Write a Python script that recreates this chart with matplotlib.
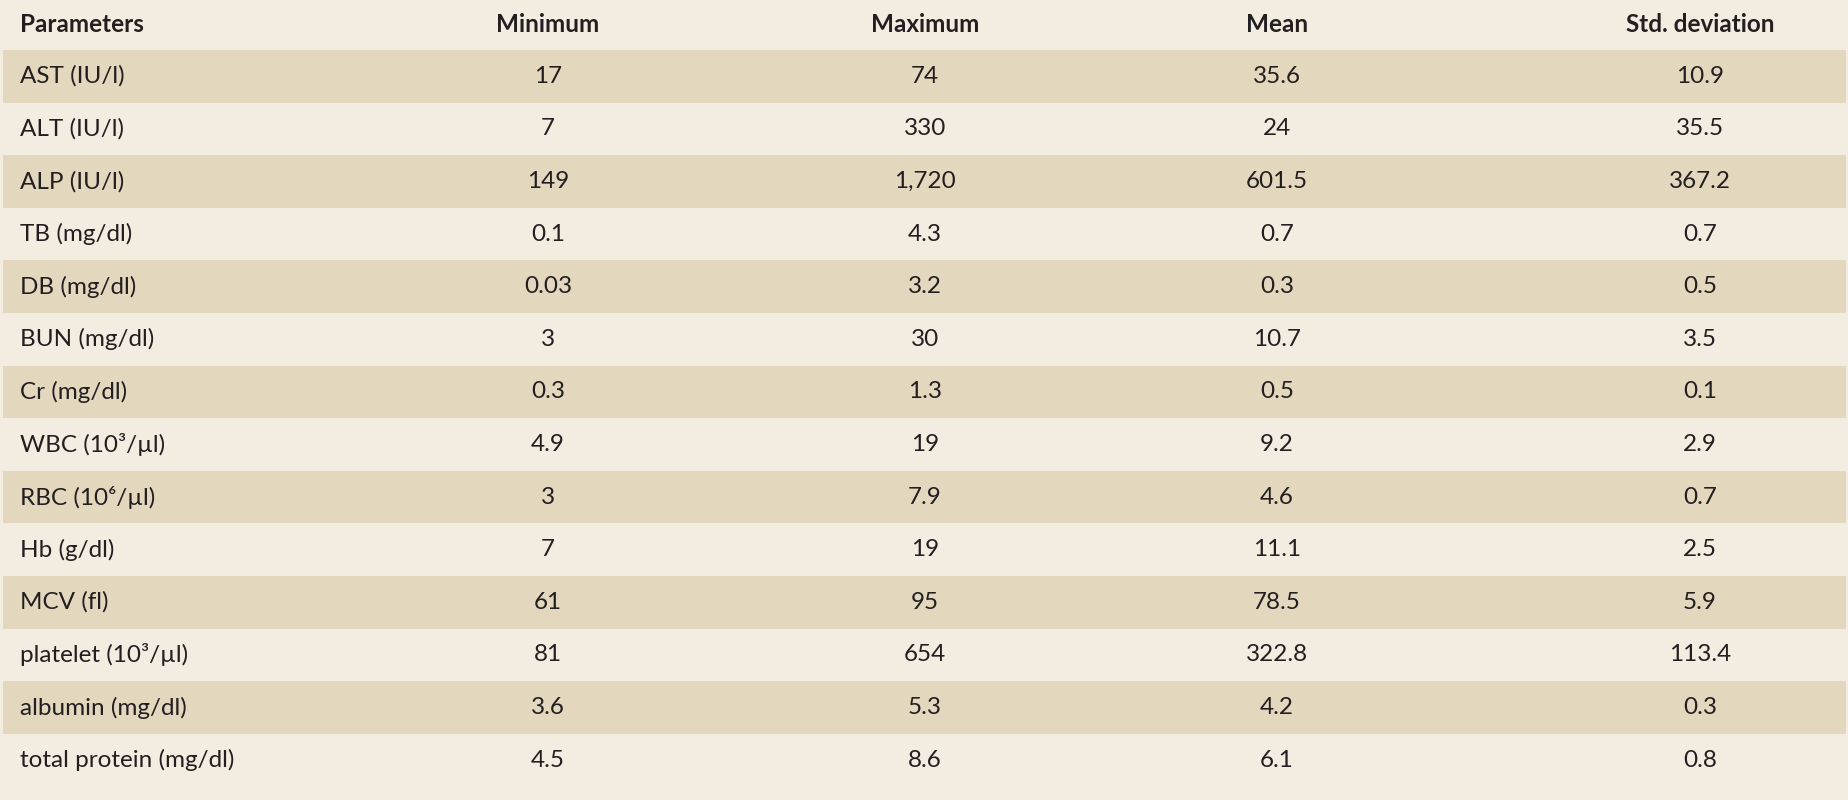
import matplotlib
matplotlib.use("Agg")
import matplotlib.pyplot as plt
from matplotlib.patches import Rectangle

headers = ["Parameters", "Minimum", "Maximum", "Mean", "Std. deviation"]
params = ["AST (IU/l)", "ALT (IU/l)", "ALP (IU/l)", "TB (mg/dl)", "DB (mg/dl)", "BUN (mg/dl)",
          "Cr (mg/dl)", "WBC (10³/µl)", "RBC (10⁶/µl)", "Hb (g/dl)", "MCV (fl)",
          "platelet (10³/µl)", "albumin (mg/dl)", "total protein (mg/dl)"]
minimum = ["17", "7", "149", "0.1", "0.03", "3", "0.3", "4.9", "3", "7", "61", "81", "3.6", "4.5"]
maximum = ["74", "330", "1,720", "4.3", "3.2", "30", "1.3", "19", "7.9", "19", "95", "654", "5.3", "8.6"]
mean = ["35.6", "24", "601.5", "0.7", "0.3", "10.7", "0.5", "9.2", "4.6", "11.1", "78.5", "322.8", "4.2", "6.1"]
std = ["10.9", "35.5", "367.2", "0.7", "0.5", "3.5", "0.1", "2.9", "0.7", "2.5", "5.9", "113.4", "0.3", "0.8"]

W, H = 1849, 800
fig = plt.figure(figsize=(W/100, H/100), dpi=100)
fig.patch.set_facecolor("#F3ECE1")
ax = fig.add_axes([0, 0, 1, 1])
ax.set_xlim(0, W); ax.set_ylim(H, 0); ax.axis("off")

fam = ["Lato", "DejaVu Sans"]
col_x = [20, 548, 925, 1277, 1700]
header_h = 50
pitch = 52.6
fs = 17.5
color = "#231f20"

ax.text(col_x[0], header_h/2, headers[0], ha="left", va="center", fontsize=fs, fontweight="bold", family=fam, color=color)
for j in range(1, 5):
    ax.text(col_x[j], header_h/2, headers[j], ha="center", va="center", fontsize=fs, fontweight="bold", family=fam, color=color)

cols = [minimum, maximum, mean, std]
for i, p in enumerate(params):
    y0 = header_h + i*pitch
    if i % 2 == 0:
        ax.add_patch(Rectangle((3, y0), W-6, pitch, color="#E3D8BE", lw=0))
    yc = y0 + pitch/2
    ax.text(col_x[0], yc, p, ha="left", va="center", fontsize=fs, family=fam, color=color)
    for j, c in enumerate(cols):
        ax.text(col_x[j+1], yc, c[i], ha="center", va="center", fontsize=fs, family=fam, color=color)

fig.savefig("out.png", dpi=100, facecolor=fig.get_facecolor())
